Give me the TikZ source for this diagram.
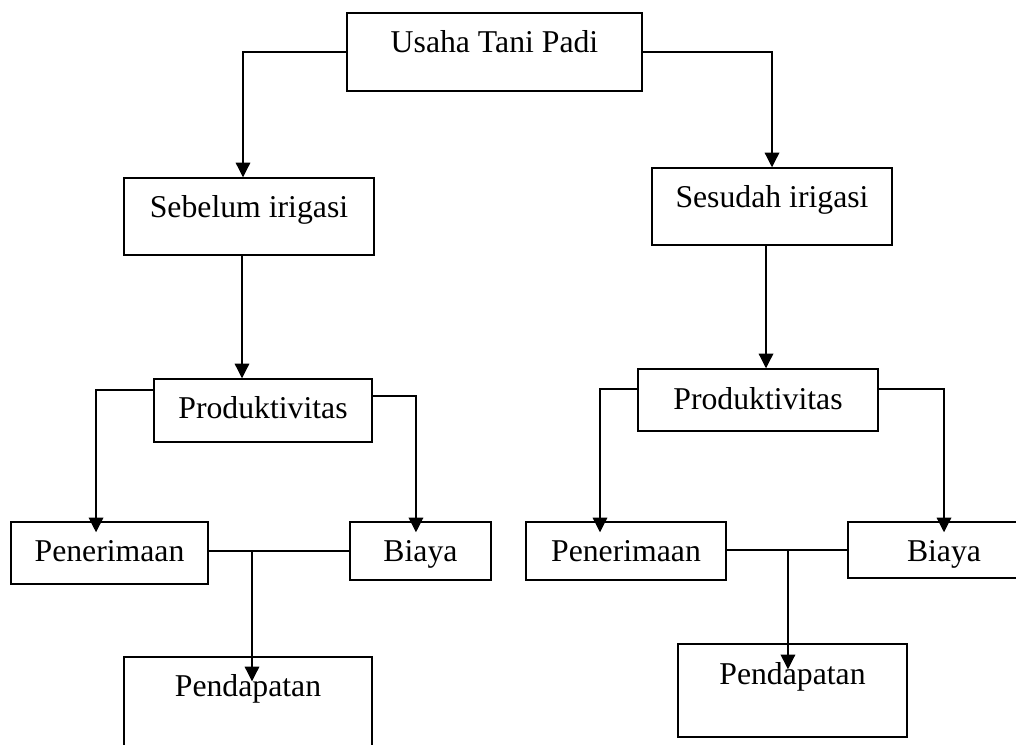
\documentclass[tikz,border=0pt]{standalone}
\usepackage{fontspec}
\setmainfont{Liberation Serif}
\usetikzlibrary{arrows.meta}

\begin{document}
\begin{tikzpicture}[x=0.75pt,y=-0.75pt,
  box/.style={draw,line width=1.1pt,inner sep=0pt,text height=16.6pt,
    font=\fontsize{23.8}{28}\selectfont},
  arr/.style={line width=0.9pt,-{Triangle[length=11pt,width=11pt]}}]
\useasboundingbox (0,0) rectangle (1016,745);

\node[box,minimum width=221pt,minimum height=58.5pt,text depth=15.2pt] (nUsaha) at (494.5,52) {Usaha Tani Padi};
\node[box,minimum width=187.5pt,minimum height=57.75pt,text depth=14.4pt] (nSebelum) at (249,216.5) {Sebelum irigasi};
\node[box,minimum width=180pt,minimum height=57.75pt,text depth=14.4pt] (nSesudah) at (772,206.5) {Sesudah irigasi};

\node[box,minimum width=163.5pt,minimum height=47.25pt,text depth=3.9pt] (nProdA) at (263,410.5) {Produktivitas};
\node[box,minimum width=180pt,minimum height=46.5pt,text depth=1.65pt] (nProdB) at (758,400) {Produktivitas};

\node[box,minimum width=147.75pt,minimum height=46.5pt,text depth=3.15pt] (nPenA) at (109.5,553) {Penerimaan};
\node[box,minimum width=105.75pt,minimum height=43.5pt,text depth=0.15pt] (nBiayaA) at (420.5,551) {Biaya};
\node[box,minimum width=150pt,minimum height=43.5pt,text depth=0.15pt] (nPenB) at (626,551) {Penerimaan};
\node[box,minimum width=144pt,minimum height=42pt,text depth=0pt] (nBiayaB) at (944,550) {Biaya};

\node[box,minimum width=186pt,minimum height=77.25pt,text depth=34pt] (nPendA) at (248,708.5) {Pendapatan};
\node[box,minimum width=171.75pt,minimum height=69.75pt,text depth=24.9pt] (nPendB) at (792.5,690.5) {Pendapatan};

% arrow ends
\coordinate (cSebTop) at ([xshift=-4.5pt]nSebelum.north);
\coordinate (cSebBot) at ([xshift=-5.25pt]nSebelum.south);
\coordinate (cSesBot) at ([xshift=-4.5pt]nSesudah.south);
\coordinate (cPendA) at ([xshift=3pt,yshift=-18.75pt]nPendA.north);
\coordinate (cPendB) at ([xshift=-3.4pt,yshift=-19.5pt]nPendB.north);

\draw[arr] (nUsaha.west) -| (cSebTop);
\draw[arr] (nUsaha.east) -| (nSesudah.north);
\draw[arr] (cSebBot) -- (cSebBot |- nProdA.north);
\draw[arr] (cSesBot) -- (cSesBot |- nProdB.north);

\draw[arr] ([yshift=15.4pt]nProdA.west) -| ([xshift=-10.1pt,yshift=-8.25pt]nPenA.north);
\draw[arr] ([yshift=10.9pt]nProdA.east) -| ([xshift=-3.4pt,yshift=-8.25pt]nBiayaA.north);
\draw[arr] ([yshift=8.25pt]nProdB.west) -| ([xshift=-19.5pt,yshift=-8.25pt]nPenB.north);
\draw[arr] ([yshift=8.25pt]nProdB.east) -| ([yshift=-8.25pt]nBiayaB.north);

\draw[line width=0.9pt] (nBiayaA.west -| nPenA.east) -- (nBiayaA.west);
\draw[arr] (cPendA |- nBiayaA.west) -- (cPendA);
\draw[line width=0.9pt] (nBiayaB.west -| nPenB.east) -- (nBiayaB.west);
\draw[arr] (cPendB |- nBiayaB.west) -- (cPendB);
\end{tikzpicture}
\end{document}
